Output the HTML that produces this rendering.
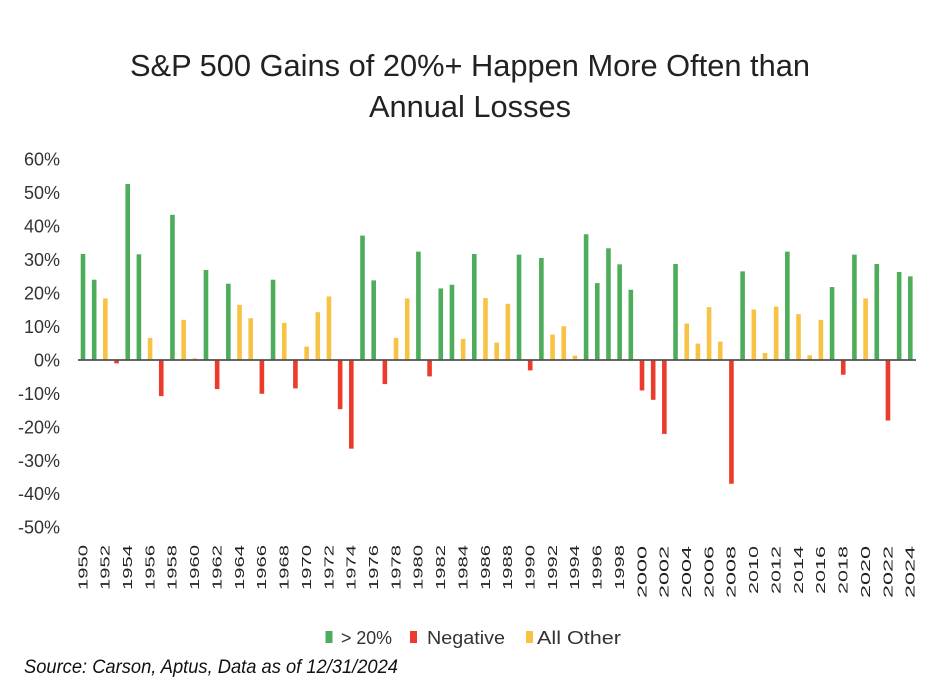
<!DOCTYPE html>
<html>
<head>
<meta charset="utf-8">
<style>
  html, body { margin: 0; padding: 0; background: #ffffff; }
  svg { display: block; }
  text { font-family: "Liberation Sans", "DejaVu Sans", sans-serif; }
</style>
</head>
<body>
<svg width="938" height="688" viewBox="0 0 938 688" xmlns="http://www.w3.org/2000/svg">
  <rect x="0" y="0" width="938" height="688" fill="#ffffff"/>

  <!-- Title -->
  <text x="130" y="76" font-size="31" fill="#222" textLength="680" lengthAdjust="spacingAndGlyphs">S&amp;P 500 Gains of 20%+ Happen More Often than</text>
  <text x="369" y="117" font-size="31" fill="#222" textLength="202" lengthAdjust="spacingAndGlyphs">Annual Losses</text>

  <!-- Y axis labels -->
  <g font-size="18" fill="#333" text-anchor="end">
    <text x="60" y="165.7">60%</text>
    <text x="60" y="199.2">50%</text>
    <text x="60" y="232.6">40%</text>
    <text x="60" y="266.1">30%</text>
    <text x="60" y="299.5">20%</text>
    <text x="60" y="333.0">10%</text>
    <text x="60" y="366.4">0%</text>
    <text x="60" y="399.9">-10%</text>
    <text x="60" y="433.3">-20%</text>
    <text x="60" y="466.8">-30%</text>
    <text x="60" y="500.2">-40%</text>
    <text x="60" y="533.7">-50%</text>
  </g>

  <!-- Bars -->
  <g>
    <rect x="80.70" y="253.96" width="4.6" height="106.04" fill="#4EAD5B"/>
    <rect x="91.88" y="279.72" width="4.6" height="80.28" fill="#4EAD5B"/>
    <rect x="103.06" y="298.45" width="4.6" height="61.55" fill="#F7C344"/>
    <rect x="114.24" y="360" width="4.6" height="3.35" fill="#EB3B2C"/>
    <rect x="125.42" y="184.05" width="4.6" height="175.95" fill="#4EAD5B"/>
    <rect x="136.60" y="254.30" width="4.6" height="105.70" fill="#4EAD5B"/>
    <rect x="147.78" y="337.92" width="4.6" height="22.08" fill="#F7C344"/>
    <rect x="158.96" y="360" width="4.6" height="36.13" fill="#EB3B2C"/>
    <rect x="170.14" y="214.83" width="4.6" height="145.17" fill="#4EAD5B"/>
    <rect x="181.32" y="319.86" width="4.6" height="40.14" fill="#F7C344"/>
    <rect x="192.50" y="358.33" width="4.6" height="1.67" fill="#F7C344"/>
    <rect x="203.68" y="270.02" width="4.6" height="89.98" fill="#4EAD5B"/>
    <rect x="214.86" y="360" width="4.6" height="29.10" fill="#EB3B2C"/>
    <rect x="226.04" y="283.73" width="4.6" height="76.27" fill="#4EAD5B"/>
    <rect x="237.22" y="304.81" width="4.6" height="55.19" fill="#F7C344"/>
    <rect x="248.40" y="318.19" width="4.6" height="41.81" fill="#F7C344"/>
    <rect x="259.58" y="360" width="4.6" height="33.78" fill="#EB3B2C"/>
    <rect x="270.76" y="279.72" width="4.6" height="80.28" fill="#4EAD5B"/>
    <rect x="281.94" y="322.87" width="4.6" height="37.13" fill="#F7C344"/>
    <rect x="293.12" y="360" width="4.6" height="28.43" fill="#EB3B2C"/>
    <rect x="304.30" y="346.62" width="4.6" height="13.38" fill="#F7C344"/>
    <rect x="315.48" y="312.17" width="4.6" height="47.83" fill="#F7C344"/>
    <rect x="326.66" y="296.44" width="4.6" height="63.56" fill="#F7C344"/>
    <rect x="337.84" y="360" width="4.6" height="49.17" fill="#EB3B2C"/>
    <rect x="349.02" y="360" width="4.6" height="88.64" fill="#EB3B2C"/>
    <rect x="360.20" y="235.57" width="4.6" height="124.43" fill="#4EAD5B"/>
    <rect x="371.38" y="280.39" width="4.6" height="79.61" fill="#4EAD5B"/>
    <rect x="382.56" y="360" width="4.6" height="24.08" fill="#EB3B2C"/>
    <rect x="393.74" y="337.92" width="4.6" height="22.08" fill="#F7C344"/>
    <rect x="404.92" y="298.45" width="4.6" height="61.55" fill="#F7C344"/>
    <rect x="416.10" y="251.62" width="4.6" height="108.38" fill="#4EAD5B"/>
    <rect x="427.28" y="360" width="4.6" height="16.39" fill="#EB3B2C"/>
    <rect x="438.46" y="288.42" width="4.6" height="71.58" fill="#4EAD5B"/>
    <rect x="449.64" y="284.74" width="4.6" height="75.26" fill="#4EAD5B"/>
    <rect x="460.82" y="338.93" width="4.6" height="21.07" fill="#F7C344"/>
    <rect x="472.00" y="253.96" width="4.6" height="106.04" fill="#4EAD5B"/>
    <rect x="483.18" y="298.12" width="4.6" height="61.88" fill="#F7C344"/>
    <rect x="494.36" y="342.61" width="4.6" height="17.39" fill="#F7C344"/>
    <rect x="505.54" y="303.80" width="4.6" height="56.20" fill="#F7C344"/>
    <rect x="516.72" y="254.63" width="4.6" height="105.37" fill="#4EAD5B"/>
    <rect x="527.90" y="360" width="4.6" height="10.37" fill="#EB3B2C"/>
    <rect x="539.08" y="257.98" width="4.6" height="102.02" fill="#4EAD5B"/>
    <rect x="550.26" y="334.58" width="4.6" height="25.42" fill="#F7C344"/>
    <rect x="561.44" y="326.22" width="4.6" height="33.78" fill="#F7C344"/>
    <rect x="572.62" y="355.65" width="4.6" height="4.35" fill="#F7C344"/>
    <rect x="583.80" y="234.23" width="4.6" height="125.77" fill="#4EAD5B"/>
    <rect x="594.98" y="283.06" width="4.6" height="76.94" fill="#4EAD5B"/>
    <rect x="606.16" y="248.28" width="4.6" height="111.72" fill="#4EAD5B"/>
    <rect x="617.34" y="264.33" width="4.6" height="95.67" fill="#4EAD5B"/>
    <rect x="628.52" y="289.75" width="4.6" height="70.25" fill="#4EAD5B"/>
    <rect x="639.70" y="360" width="4.6" height="30.44" fill="#EB3B2C"/>
    <rect x="650.88" y="360" width="4.6" height="39.81" fill="#EB3B2C"/>
    <rect x="662.06" y="360" width="4.6" height="73.92" fill="#EB3B2C"/>
    <rect x="673.24" y="264.00" width="4.6" height="96.00" fill="#4EAD5B"/>
    <rect x="684.42" y="323.54" width="4.6" height="36.46" fill="#F7C344"/>
    <rect x="695.60" y="343.61" width="4.6" height="16.39" fill="#F7C344"/>
    <rect x="706.78" y="307.15" width="4.6" height="52.85" fill="#F7C344"/>
    <rect x="717.96" y="341.60" width="4.6" height="18.40" fill="#F7C344"/>
    <rect x="729.14" y="360" width="4.6" height="123.77" fill="#EB3B2C"/>
    <rect x="740.32" y="271.36" width="4.6" height="88.64" fill="#4EAD5B"/>
    <rect x="751.50" y="309.49" width="4.6" height="50.51" fill="#F7C344"/>
    <rect x="762.68" y="352.98" width="4.6" height="7.02" fill="#F7C344"/>
    <rect x="773.86" y="306.48" width="4.6" height="53.52" fill="#F7C344"/>
    <rect x="785.04" y="251.62" width="4.6" height="108.38" fill="#4EAD5B"/>
    <rect x="796.22" y="314.17" width="4.6" height="45.83" fill="#F7C344"/>
    <rect x="807.40" y="355.32" width="4.6" height="4.68" fill="#F7C344"/>
    <rect x="818.58" y="319.86" width="4.6" height="40.14" fill="#F7C344"/>
    <rect x="829.76" y="287.08" width="4.6" height="72.92" fill="#4EAD5B"/>
    <rect x="840.94" y="360" width="4.6" height="14.72" fill="#EB3B2C"/>
    <rect x="852.12" y="254.63" width="4.6" height="105.37" fill="#4EAD5B"/>
    <rect x="863.30" y="298.45" width="4.6" height="61.55" fill="#F7C344"/>
    <rect x="874.48" y="264.00" width="4.6" height="96.00" fill="#4EAD5B"/>
    <rect x="885.66" y="360" width="4.6" height="60.54" fill="#EB3B2C"/>
    <rect x="896.84" y="272.03" width="4.6" height="87.97" fill="#4EAD5B"/>
    <rect x="908.02" y="276.37" width="4.6" height="83.63" fill="#4EAD5B"/>
  </g>

  <!-- Zero axis line -->
  <line x1="78" y1="360" x2="916" y2="360" stroke="#505050" stroke-width="1.8"/>

  <!-- X axis labels (rotated) -->
  <g font-size="12.5" fill="#222" text-anchor="end">
    <text transform="translate(87.3,545) rotate(-90)" textLength="45" lengthAdjust="spacingAndGlyphs">1950</text>
    <text transform="translate(109.66,545) rotate(-90)" textLength="45" lengthAdjust="spacingAndGlyphs">1952</text>
    <text transform="translate(132.02,545) rotate(-90)" textLength="45" lengthAdjust="spacingAndGlyphs">1954</text>
    <text transform="translate(154.38,545) rotate(-90)" textLength="45" lengthAdjust="spacingAndGlyphs">1956</text>
    <text transform="translate(176.74,545) rotate(-90)" textLength="45" lengthAdjust="spacingAndGlyphs">1958</text>
    <text transform="translate(199.10,545) rotate(-90)" textLength="45" lengthAdjust="spacingAndGlyphs">1960</text>
    <text transform="translate(221.46,545) rotate(-90)" textLength="45" lengthAdjust="spacingAndGlyphs">1962</text>
    <text transform="translate(243.82,545) rotate(-90)" textLength="45" lengthAdjust="spacingAndGlyphs">1964</text>
    <text transform="translate(266.18,545) rotate(-90)" textLength="45" lengthAdjust="spacingAndGlyphs">1966</text>
    <text transform="translate(288.54,545) rotate(-90)" textLength="45" lengthAdjust="spacingAndGlyphs">1968</text>
    <text transform="translate(310.90,545) rotate(-90)" textLength="45" lengthAdjust="spacingAndGlyphs">1970</text>
    <text transform="translate(333.26,545) rotate(-90)" textLength="45" lengthAdjust="spacingAndGlyphs">1972</text>
    <text transform="translate(355.62,545) rotate(-90)" textLength="45" lengthAdjust="spacingAndGlyphs">1974</text>
    <text transform="translate(377.98,545) rotate(-90)" textLength="45" lengthAdjust="spacingAndGlyphs">1976</text>
    <text transform="translate(400.34,545) rotate(-90)" textLength="45" lengthAdjust="spacingAndGlyphs">1978</text>
    <text transform="translate(422.70,545) rotate(-90)" textLength="45" lengthAdjust="spacingAndGlyphs">1980</text>
    <text transform="translate(445.06,545) rotate(-90)" textLength="45" lengthAdjust="spacingAndGlyphs">1982</text>
    <text transform="translate(467.42,545) rotate(-90)" textLength="45" lengthAdjust="spacingAndGlyphs">1984</text>
    <text transform="translate(489.78,545) rotate(-90)" textLength="45" lengthAdjust="spacingAndGlyphs">1986</text>
    <text transform="translate(512.14,545) rotate(-90)" textLength="45" lengthAdjust="spacingAndGlyphs">1988</text>
    <text transform="translate(534.50,545) rotate(-90)" textLength="45" lengthAdjust="spacingAndGlyphs">1990</text>
    <text transform="translate(556.86,545) rotate(-90)" textLength="45" lengthAdjust="spacingAndGlyphs">1992</text>
    <text transform="translate(579.22,545) rotate(-90)" textLength="45" lengthAdjust="spacingAndGlyphs">1994</text>
    <text transform="translate(601.58,545) rotate(-90)" textLength="45" lengthAdjust="spacingAndGlyphs">1996</text>
    <text transform="translate(623.94,545) rotate(-90)" textLength="45" lengthAdjust="spacingAndGlyphs">1998</text>
    <text transform="translate(646.30,546) rotate(-90)" textLength="52" lengthAdjust="spacingAndGlyphs">2000</text>
    <text transform="translate(668.66,546) rotate(-90)" textLength="52" lengthAdjust="spacingAndGlyphs">2002</text>
    <text transform="translate(691.02,546) rotate(-90)" textLength="52" lengthAdjust="spacingAndGlyphs">2004</text>
    <text transform="translate(713.38,546) rotate(-90)" textLength="52" lengthAdjust="spacingAndGlyphs">2006</text>
    <text transform="translate(735.74,546) rotate(-90)" textLength="52" lengthAdjust="spacingAndGlyphs">2008</text>
    <text transform="translate(758.10,546) rotate(-90)" textLength="48" lengthAdjust="spacingAndGlyphs">2010</text>
    <text transform="translate(780.46,546) rotate(-90)" textLength="48" lengthAdjust="spacingAndGlyphs">2012</text>
    <text transform="translate(802.82,546) rotate(-90)" textLength="48" lengthAdjust="spacingAndGlyphs">2014</text>
    <text transform="translate(825.18,546) rotate(-90)" textLength="48" lengthAdjust="spacingAndGlyphs">2016</text>
    <text transform="translate(847.54,546) rotate(-90)" textLength="48" lengthAdjust="spacingAndGlyphs">2018</text>
    <text transform="translate(869.90,546) rotate(-90)" textLength="52" lengthAdjust="spacingAndGlyphs">2020</text>
    <text transform="translate(892.26,546) rotate(-90)" textLength="52" lengthAdjust="spacingAndGlyphs">2022</text>
    <text transform="translate(914.62,546) rotate(-90)" textLength="52" lengthAdjust="spacingAndGlyphs">2024</text>
  </g>

  <!-- Legend -->
  <rect x="325.5" y="631" width="7" height="12" fill="#4EAD5B"/>
  <text x="341" y="644" font-size="18" fill="#333" textLength="51" lengthAdjust="spacingAndGlyphs">&gt; 20%</text>
  <rect x="410" y="631" width="7" height="12" fill="#EB3B2C"/>
  <text x="427" y="644" font-size="18" fill="#333" textLength="78" lengthAdjust="spacingAndGlyphs">Negative</text>
  <rect x="526" y="631" width="7" height="12" fill="#F7C344"/>
  <text x="537" y="644" font-size="18" fill="#333" textLength="84" lengthAdjust="spacingAndGlyphs">All Other</text>

  <!-- Source -->
  <text x="24" y="673" font-size="19" font-style="italic" fill="#111" textLength="374" lengthAdjust="spacingAndGlyphs">Source: Carson, Aptus, Data as of 12/31/2024</text>
</svg>
</body>
</html>
